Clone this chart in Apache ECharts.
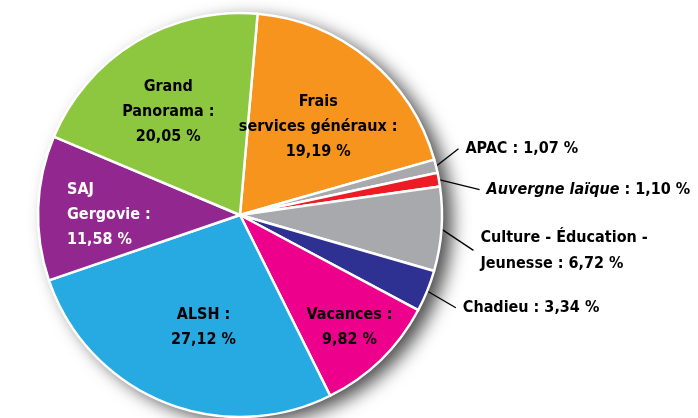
<!DOCTYPE html>
<html>
<head>
<meta charset="utf-8">
<script src="https://cdn.jsdelivr.net/npm/echarts@6/dist/echarts.min.js"></script>
<style>html,body{margin:0;padding:0;background:#fff;}#c{width:698px;height:418px;}</style>
</head>
<body>
<div id="c"></div>
<script>
var categories = ['Frais\nservices généraux', 'APAC', 'Auvergne laïque', 'Culture - Éducation -\nJeunesse', 'Chadieu', 'Vacances', 'ALSH', 'SAJ\nGergovie', 'Grand\nPanorama'];
var values = [19.19, 1.07, 1.10, 6.72, 3.34, 9.82, 27.12, 11.58, 20.05];
var colors = ['#f7941d', '#a7a9ac', '#ed1c24', '#a7a9ac', '#2e3192', '#ec008c', '#27aae1', '#92278f', '#8dc63f'];
var insideLabel = [true, false, false, false, false, true, true, true, true];
// label nudges (dx, dy) relative to library default placement
var nudges = [[12, -8], [0, -13], [18, 13], [9, 20], [7, 10], [37, 38], [3, 16], [-69, 3], [-18, -14]];

var FONT = '"Liberation Sans Narrow", "DejaVu Sans Condensed", sans-serif';
function fmt(v) { return v.toFixed(2).replace('.', ',') + ' %'; }

var data = categories.map(function (n, i) {
  var item = { name: n, value: values[i], itemStyle: { color: colors[i] } };
  if (insideLabel[i]) {
    item.label = { position: 'inside', fontSize: 16, lineHeight: 25, color: i === 7 ? '#fff' : '#000' };
    item.labelLine = { show: false };
  } else {
    item.label = { position: 'outside', fontSize: 16, lineHeight: 26, padding: [0, 0, 0, 7] };
  }
  return item;
});

var total = values.reduce(function (a, b) { return a + b; }, 0);
var chart = echarts.init(document.getElementById('c'), null, { renderer: 'canvas' });
chart.setOption({
  backgroundColor: '#ffffff',
  animation: false,
  series: [
    {
      type: 'pie', silent: true, center: [240, 215], radius: 202, z: 1,
      label: { show: false }, labelLine: { show: false },
      data: [{ value: total, itemStyle: { color: '#ffffff', shadowBlur: 18, shadowColor: 'rgba(0,0,0,0.7)', shadowOffsetX: 10, shadowOffsetY: 6 } }]
    },
    {
      type: 'pie', center: [240, 215], radius: 202, startAngle: 85, clockwise: true, z: 2,
      avoidLabelOverlap: false,
      itemStyle: { borderColor: '#ffffff', borderWidth: 2.5 },
      label: {
        fontFamily: FONT, fontWeight: 'bold', fontSize: 16, color: '#000',
        formatter: function (p) {
          var v = fmt(p.value);
          if (insideLabel[p.dataIndex]) return p.name + ' :\n' + v;
          if (p.dataIndex === 2) return '{i|' + p.name + '} : ' + v;
          return p.name + ' : ' + v;
        },
        rich: { i: { fontStyle: 'italic', fontFamily: FONT, fontWeight: 'bold', fontSize: 16, color: '#000' } }
      },
      labelLine: { show: true, length: 18, length2: 0, lineStyle: { color: '#000', width: 1.3 } },
      labelLayout: function (p) {
        var i = p.dataIndex;
        var d = nudges[i];
        if (insideLabel[i]) {
          var o = { dx: d[0], dy: d[1] };
          if (i === 7) o.align = 'left';
          return o;
        }
        var r = p.labelRect;
        return { x: r.x + d[0], y: r.y + r.height / 2 + d[1], align: 'left', verticalAlign: 'middle' };
      },
      data: data
    }
  ]
});
</script>
</body>
</html>
